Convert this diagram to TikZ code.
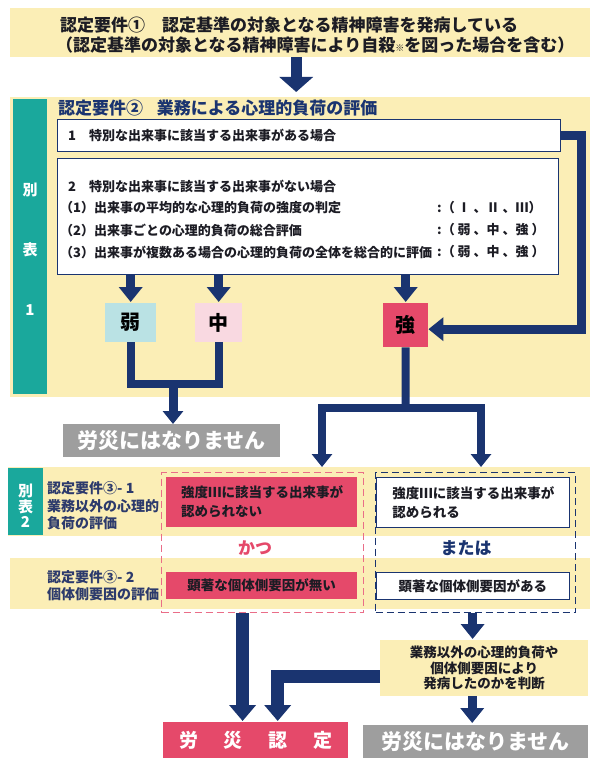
\documentclass[tikz,border=0pt]{standalone}
\usepackage{fontspec}
\setmainfont{Noto Sans CJK JP}
\usetikzlibrary{arrows.meta, positioning}

\definecolor{cream}{RGB}{251,238,182}
\definecolor{tealbar}{RGB}{26,168,156}
\definecolor{navy}{RGB}{26,52,112}
\definecolor{rose}{RGB}{229,73,106}
\definecolor{paleblue}{RGB}{186,226,228}
\definecolor{palepink}{RGB}{249,217,225}
\definecolor{greybox}{RGB}{158,158,158}
\definecolor{ink}{RGB}{28,28,36}
\definecolor{labelblue}{RGB}{44,58,108}

\tikzset{
  band/.style={fill=cream, draw=none, inner sep=0pt, anchor=north west},
  tab/.style={fill=tealbar, draw=none, inner sep=0pt, anchor=north west},
  frame/.style={draw=navy, fill=white, line width=0.8pt, inner sep=0pt, anchor=north west},
  redbox/.style={fill=rose, draw=none, inner sep=0pt, anchor=north west},
  greyend/.style={fill=greybox, draw=none, inner sep=0pt, anchor=north west, text=white,
    font=\bfseries\fontsize{21}{21}\selectfont},
  grade/.style={draw=none, inner sep=0pt, anchor=north west, text=black,
    font=\bfseries\fontsize{20}{20}\selectfont},
  txt/.style={anchor=west, inner sep=0pt, text=ink, font=\bfseries\fontsize{13}{13}\selectfont},
  tabtxt/.style={inner sep=0pt, text=white, font=\bfseries\fontsize{15}{15}\selectfont},
  reqtxt/.style={anchor=west, inner sep=0pt, text=labelblue, font=\bfseries\fontsize{14}{14}\selectfont},
  pipe/.style={draw=navy, line width=9pt},
  arr/.style={pipe, -{Triangle[width=23pt,length=15pt]}},
  thinarr/.style={draw=navy, line width=8pt, -{Triangle[width=20pt,length=13pt]}},
  bigarr/.style={draw=navy, line width=13pt, -{Triangle[width=26pt,length=16pt]}},
  toparr/.style={draw=navy, line width=11pt, -{Triangle[width=33pt,length=15pt]}},
  dashbox/.style={fill=none, line width=1.2pt, dash pattern=on 7pt off 4pt, inner sep=0pt, anchor=north west}
}

\begin{document}
\begin{tikzpicture}[x=1pt, y=-1pt]
\useasboundingbox[fill=white] (0,0) rectangle (596,762);

% 認定要件1
\node[band, minimum width=580pt, minimum height=49pt] (req1) at (10,8) {};
\node[txt, font=\bfseries\fontsize{17}{17}\selectfont] (req1a) at (60,25)
  {認定要件①\hspace{1em}認定基準の対象となる精神障害を発病している};
\node[txt, font=\bfseries\fontsize{17}{17}\selectfont] (req1b) at (56,45)
  {（認定基準の対象となる精神障害により自殺{\fontsize{9}{9}\selectfont ※}を図った場合を含む）};

% 認定要件2 (別表1)
\node[band, minimum width=580pt, minimum height=300pt] (reg2) at (10,97) {};
\node[tab, minimum width=34pt, minimum height=295pt] (tab1) at (13,99) {};
\node[tabtxt] (tab1a) at (30,190) {別};
\node[tabtxt] (tab1b) at (30,250) {表};
\node[tabtxt] (tab1c) at (30,310) {1};
\draw[toparr, shorten >=5pt] ([xshift=-4pt]req1.south) -- ([xshift=-4pt]reg2.north);

\node[txt, text=navy, font=\bfseries\fontsize{17}{17}\selectfont] (title2) at (58,108)
  {認定要件②\hspace{0.8em}業務による心理的負荷の評価};

\node[frame, minimum width=503pt, minimum height=32pt] (b1) at (57,119) {};
\node[txt] (b1t) at (68,135) {1\hspace{1em}特別な出来事に該当する出来事がある場合};

\node[frame, minimum width=501pt, minimum height=116pt] (b2) at (57,158) {};
\node[txt] (b2t) at (68,186) {2\hspace{1em}特別な出来事に該当する出来事がない場合};
\node[txt] (b2a) at (60,208) {（1）出来事の平均的な心理的負荷の強度の判定};
\node[txt] (b2b) at (60,230) {（2）出来事ごとの心理的負荷の総合評価};
\node[txt] (b2c) at (60,252) {（3）出来事が複数ある場合の心理的負荷の全体を総合的に評価};
\node[txt] (b2ar) at (437,208) {:（ Ⅰ 、Ⅱ 、Ⅲ）};
\node[txt] (b2br) at (437,230) {:（ 弱 、中 、強 ）};
\node[txt] (b2cr) at (437,252) {:（ 弱 、中 、強 ）};

\node[grade, fill=paleblue, minimum width=51pt, minimum height=39pt] (yowa) at (105,303) {弱};
\node[grade, fill=palepink, minimum width=47pt, minimum height=39pt] (naka) at (195,303) {中};
\node[grade, fill=rose, minimum width=45pt, minimum height=44pt] (tsuyo) at (383,303) {強};

\draw[arr, shorten >=1pt] (yowa.north |- b2.south) -- (yowa.north);
\draw[arr, shorten >=1pt] (naka.north |- b2.south) -- (naka.north);
\draw[arr, shorten >=1pt] (tsuyo.north |- b2.south) -- (tsuyo.north);
\draw[arr, line join=miter] (b1.east) -- ++(21,0) |- ([yshift=-4pt]tsuyo.east);

\node[greyend, minimum width=217pt, minimum height=33pt] (ng1) at (63,424) {労災にはなりません};
\coordinate (jn) at (173,384);
\draw[pipe, line width=8pt, line join=miter] (yowa.south) |- (jn) -| (naka.south);
\draw[thinarr, line width=9pt] (jn) -- (jn |- ng1.north);

% 強 から 別表2 へ
\coordinate (sp) at (405.5,407.5);
\coordinate (kd1top) at (322,467);
\coordinate (kd2top) at (481,467);
\draw[pipe, line width=8pt] (tsuyo.south) -- (sp);
\draw[thinarr, line join=miter] (sp) -| (kd1top);
\draw[thinarr, line join=miter] (sp) -| (kd2top);

% 認定要件3 (別表2)
\node[band, minimum width=582pt, minimum height=69pt] (band1) at (8,467) {};
\node[band, minimum width=580pt, minimum height=51pt] (band2) at (10,558) {};
\node[tab, minimum width=35pt, minimum height=67pt] (tab2) at (8,468) {};
\node[tabtxt, align=center, font=\bfseries\fontsize{15}{15.5}\selectfont] (tab2t) at (25.5,506) {別\\表\\2};

\node[reqtxt] (r31a) at (47,488) {認定要件③- 1};
\node[reqtxt] (r31b) at (47,506) {業務以外の心理的};
\node[reqtxt] (r31c) at (47,523) {負荷の評価};
\node[reqtxt] (r32a) at (47,577) {認定要件③- 2};
\node[reqtxt] (r32b) at (47,594) {個体側要因の評価};

\node[dashbox, draw=rose!80, minimum width=202pt, minimum height=140pt] (kd1) at (161,472) {};
\node[dashbox, draw=navy, minimum width=200pt, minimum height=140pt] (kd2) at (375,472) {};

\node[redbox, minimum width=191pt, minimum height=50pt, text width=161pt, inner xsep=15pt,
  align=left, text=ink, font=\bfseries\fontsize{13.5}{19}\selectfont] (r1) at (166,477)
  {強度Ⅲに該当する出来事が\\認められない};
\node[frame, minimum width=193pt, minimum height=50pt, text width=161pt, inner xsep=16pt,
  align=left, text=ink, font=\bfseries\fontsize{13.5}{19}\selectfont] (w1) at (376,477)
  {強度Ⅲに該当する出来事が\\認められる};
\node[redbox, minimum width=191pt, minimum height=27pt, text=ink,
  font=\bfseries\fontsize{13.5}{13.5}\selectfont] (r2) at (166,572) {顕著な個体側要因が無い};
\node[frame, minimum width=193pt, minimum height=27pt, text=ink,
  font=\bfseries\fontsize{13.5}{13.5}\selectfont] (w2) at (376,572) {顕著な個体側要因がある};

\node[inner sep=0pt, text=rose, font=\bfseries\fontsize{17}{17}\selectfont] (katsu) at (255,548) {かつ};
\node[inner sep=0pt, text=navy, font=\bfseries\fontsize{17}{17}\selectfont] (matawa) at (466,548) {または};

% 判断と結論
\node[band, minimum width=208pt, minimum height=56pt, align=center, text=ink,
  font=\bfseries\fontsize{13.5}{15.5}\selectfont] (jd) at (380,640)
  {業務以外の心理的負荷や\\個体側要因により\\発病したのかを判断};

\node[redbox, minimum width=185pt, minimum height=36pt, text=white,
  font=\bfseries\fontsize{19}{19}\selectfont] (rs) at (163,722)
  {労\hspace{1.35em}災\hspace{1.35em}認\hspace{1.35em}定};
\node[greyend, minimum width=225pt, minimum height=33pt] (ng2) at (363,725) {労災にはなりません};

\draw[bigarr, shorten >=1pt] ([xshift=-20pt]kd1.south) -- ([xshift=-20pt]kd1.south |- rs.north);
\draw[bigarr, shorten >=1pt, line join=miter] ([yshift=-8pt]jd.west) -| ([xshift=22pt]rs.north);
\draw[arr, shorten >=1pt] ([xshift=-3pt]kd2.south) -- ([xshift=-3pt]kd2.south |- jd.north);
\draw[arr, shorten >=2pt] ([xshift=-12pt]jd.south) -- ([xshift=-12pt]jd.south |- ng2.north);
\end{tikzpicture}
\end{document}
